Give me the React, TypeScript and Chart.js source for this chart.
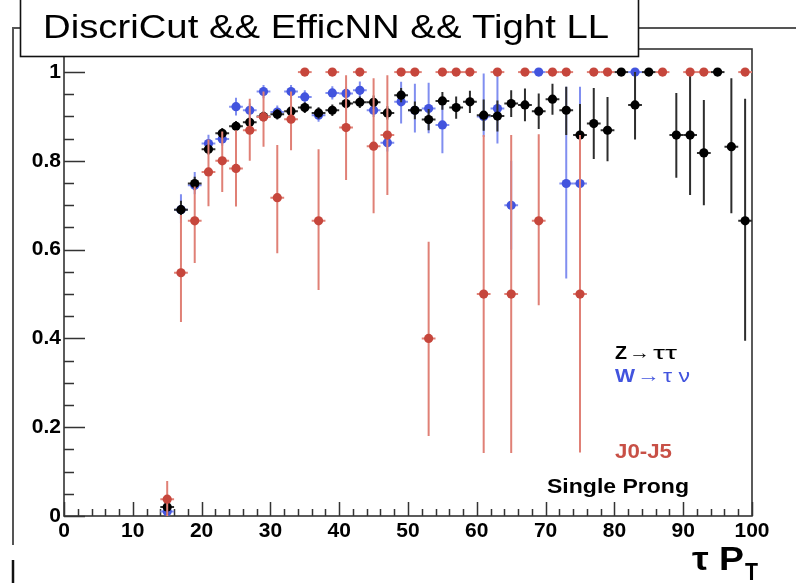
import React, { useEffect, useRef } from 'react';
import { Chart, registerables } from 'chart.js';

Chart.register(...registerables);

// ---------------- data ----------------
const xCenters = [15, 17, 19, 21, 23, 25, 27, 29, 31, 33, 35, 37, 39, 41, 43, 45, 47, 49, 51, 53, 55, 57, 59, 61, 63, 65, 67, 69, 71, 73, 75, 77, 79, 81, 83, 85, 87, 89, 91, 93, 95, 97, 99];
const binHalfWidth = 1;

// Z -> tautau (black)
const zttValues = [0.02, 0.69, 0.749, 0.826, 0.862, 0.878, 0.887, 0.9, 0.905, 0.912, 0.92, 0.908, 0.914, 0.929, 0.932, 0.932, 0.908, 0.948, 0.914, 0.893, 0.935, 0.92, 0.933, 0.903, 0.901, 0.929, 0.926, 0.912, 0.939, 0.914, 0.858, 0.884, 0.869, 1.0, 0.926, 1.0, null, 0.858, 0.858, 0.818, 1.0, 0.832, 0.665];
const zttErrHi = [0.02, 0.02, 0.015, 0.012, 0.012, 0.012, 0.012, 0.012, 0.012, 0.012, 0.012, 0.013, 0.013, 0.013, 0.013, 0.015, 0.015, 0.016, 0.02, 0.024, 0.02, 0.025, 0.025, 0.035, 0.035, 0.03, 0.037, 0.04, 0.035, 0.053, 0.07, 0.08, 0.075, 0, 0.074, 0, null, 0.095, 0.142, 0.119, 0, 0.154, 0.275];
const zttErrLo = [0.02, 0.02, 0.015, 0.012, 0.012, 0.012, 0.012, 0.012, 0.012, 0.012, 0.012, 0.013, 0.013, 0.013, 0.013, 0.015, 0.015, 0.016, 0.02, 0.024, 0.02, 0.025, 0.025, 0.035, 0.035, 0.03, 0.037, 0.04, 0.035, 0.056, 0.04, 0.08, 0.07, 0, 0.078, 0, null, 0.096, 0.135, 0.118, 0, 0.15, 0.27];

// W -> tau nu (blue)
const wtnValues = [0.01, 0.69, 0.745, 0.839, 0.849, 0.922, 0.914, 0.956, 0.91, 0.956, 0.944, 0.903, 0.953, 0.952, 0.959, 0.914, 0.841, 0.933, 0.914, 0.918, 0.881, null, null, 0.9, 0.918, 0.7, null, 1.0, null, 0.749, 0.749, null, null, null, 1.0, null, null, null, null, null, null, null, null];
const wtnErrHi = [0.01, 0.035, 0.03, 0.02, 0.015, 0.02, 0.015, 0.015, 0.015, 0.015, 0.015, 0.015, 0.015, 0.015, 0.02, 0.015, 0.02, 0.045, 0.06, 0.058, 0.048, null, null, 0.097, 0.079, 0.1, null, 0, null, 0.218, 0.218, null, null, null, 0, null, null, null, null, null, null, null, null];
const wtnErrLo = [0.01, 0.03, 0.02, 0.02, 0.015, 0.02, 0.015, 0.015, 0.015, 0.015, 0.015, 0.015, 0.015, 0.015, 0.02, 0.015, 0.02, 0.049, 0.05, 0.056, 0.064, null, null, 0.046, 0.079, 0.1, null, 0, null, 0.214, 0.2, null, null, null, 0, null, null, null, null, null, null, null, null];

// J0-J5 (red)
const jetValues = [0.038, 0.548, 0.665, 0.775, 0.8, 0.783, 0.869, 0.899, 0.717, 0.894, 1.0, 0.665, 1.0, 0.875, 1.0, 0.833, 0.858, 1.0, 1.0, 0.4, 1.0, 1.0, 1.0, 0.5, 1.0, 0.5, 1.0, 0.665, 1.0, 1.0, 0.5, 1.0, 1.0, null, null, null, 1.0, null, 1.0, 1.0, null, null, 1.0];
const jetErrHi = [0.041, 0.13, 0.077, 0.073, 0.066, 0.086, 0.071, 0.057, 0.119, 0.062, 0, 0.161, 0, 0.118, 0, 0.153, 0.135, 0, 0, 0.218, 0, 0, 0, 0.358, 0, 0.358, 0, 0.195, 0, 0, 0.358, 0, 0, null, null, null, 0, null, 0, 0, null, null, 0];
const jetErrLo = [0.038, 0.111, 0.095, 0.077, 0.07, 0.086, 0.069, 0.067, 0.125, 0.07, 0, 0.156, 0, 0.118, 0, 0.151, 0.135, 0, 0, 0.22, 0, 0, 0, 0.358, 0, 0.358, 0, 0.19, 0, 0, 0.357, 0, 0, null, null, null, 0, null, 0, 0, null, null, 0];

const xTickValues = [0, 10, 20, 30, 40, 50, 60, 70, 80, 90, 100];
const yTickValues = [0, 0.2, 0.4, 0.6, 0.8, 1];
const yTickLabels = ['0', '0.2', '0.4', '0.6', '0.8', '1'];
const xMinorStep = 2;
const yMinorStep = 0.05;

const titleText = 'DiscriCut && EfficNN && Tight LL';
const xAxisTitle = 'τ P';
const xAxisSub = 'T';

// ---------------- styles ----------------
const RED = 'rgb(198,70,60)';
const RED_BAR = 'rgb(224,128,118)';
const BLUE = 'rgb(66,84,222)';
const BLUE_BAR = 'rgb(128,142,240)';
const BLACK = '#000';
const BLACK_BAR = 'rgb(45,45,45)';
const FONT = "'Liberation Sans', Arial, Helvetica, sans-serif";

function buildPoints(values: (number | null)[], lo: (number | null)[], hi: (number | null)[]) {
  const pts: any[] = [];
  values.forEach((v, i) => {
    if (v === null || v === undefined) return;
    pts.push({ x: xCenters[i], y: v, lo: lo[i] ?? 0, hi: hi[i] ?? 0 });
  });
  return pts;
}

function drawFitted(ctx: CanvasRenderingContext2D, text: string, x0: number, x1: number, baseline: number, font: string, color: string) {
  ctx.save();
  ctx.font = font;
  ctx.fillStyle = color;
  ctx.textAlign = 'left';
  ctx.textBaseline = 'alphabetic';
  const w = ctx.measureText(text).width;
  const sx = w > 0 ? (x1 - x0) / w : 1;
  ctx.translate(x0, baseline);
  ctx.scale(sx, 1);
  ctx.fillText(text, 0, 0);
  ctx.restore();
}

const errorBarPlugin = {
  id: 'errorBars',
  beforeDatasetDraw(chart: any, args: any) {
    const ds = chart.data.datasets[args.index];
    const xs = chart.scales.x;
    const ys = chart.scales.y;
    const ctx = chart.ctx as CanvasRenderingContext2D;
    ctx.save();
    ctx.strokeStyle = ds.barColor;
    ctx.lineWidth = 2;
    ds.data.forEach((p: any) => {
      const px = xs.getPixelForValue(p.x);
      const py = ys.getPixelForValue(p.y);
      ctx.beginPath();
      ctx.moveTo(xs.getPixelForValue(p.x - binHalfWidth), py);
      ctx.lineTo(xs.getPixelForValue(p.x + binHalfWidth), py);
      if (p.lo > 0 || p.hi > 0) {
        ctx.moveTo(px, ys.getPixelForValue(p.y - p.lo));
        ctx.lineTo(px, ys.getPixelForValue(p.y + p.hi));
      }
      ctx.stroke();
    });
    ctx.restore();
  },
};

const framePlugin = {
  id: 'frameTicks',
  beforeDraw(chart: any) {
    const ctx = chart.ctx as CanvasRenderingContext2D;
    // outer pad frame
    ctx.save();
    ctx.strokeStyle = '#555';
    ctx.lineWidth = 2;
    ctx.beginPath();
    ctx.moveTo(13, 545);
    ctx.lineTo(13, 28);
    ctx.lineTo(21, 28);
    ctx.moveTo(638, 28);
    ctx.lineTo(800, 28);
    ctx.stroke();
    ctx.strokeStyle = '#111';
    ctx.lineWidth = 2.5;
    ctx.beginPath();
    ctx.moveTo(13, 560);
    ctx.lineTo(13, 590);
    ctx.stroke();
    ctx.restore();
  },
  beforeDatasetsDraw(chart: any) {
    const ctx = chart.ctx as CanvasRenderingContext2D;
    const a = chart.chartArea;
    const xs = chart.scales.x;
    const ys = chart.scales.y;
    ctx.save();
    ctx.strokeStyle = '#333';
    ctx.lineWidth = 1.6;
    ctx.strokeRect(a.left, a.top, a.right - a.left, a.bottom - a.top);
    ctx.lineWidth = 1.5;
    ctx.beginPath();
    // x ticks (inward)
    for (let v = xTickValues[0]; v <= xTickValues[xTickValues.length - 1] + 1e-9; v += xMinorStep) {
      const major = xTickValues.some((t) => Math.abs(t - v) < 1e-6);
      const px = Math.round(xs.getPixelForValue(v)) + 0.5;
      ctx.moveTo(px, a.bottom);
      ctx.lineTo(px, a.bottom - (major ? 14 : 7));
    }
    // y ticks (inward)
    for (let v = 0; v <= ys.max + 1e-9; v += yMinorStep) {
      const major = yTickValues.some((t) => Math.abs(t - v) < 1e-6);
      const py = Math.round(ys.getPixelForValue(v)) + 0.5;
      ctx.moveTo(a.left, py);
      ctx.lineTo(a.left + (major ? 21 : 10), py);
    }
    ctx.stroke();
    ctx.restore();
  },
  afterDraw(chart: any) {
    const ctx = chart.ctx as CanvasRenderingContext2D;
    // legend-like labels
    drawFitted(ctx, 'Z', 615, 627, 359, `bold 19px ${FONT}`, BLACK);
    drawFitted(ctx, '→', 629, 650, 359, `19px ${FONT}`, BLACK);
    drawFitted(ctx, 'ττ', 653, 677, 359, `19px ${FONT}`, BLACK);
    drawFitted(ctx, 'W', 615, 635, 382, `bold 19px ${FONT}`, BLUE);
    drawFitted(ctx, '→', 637, 660, 382, `19px ${FONT}`, BLUE);
    drawFitted(ctx, 'τ ν', 663, 690, 382, `19px ${FONT}`, BLUE);
    drawFitted(ctx, 'J0-J5', 615, 672, 458, `bold 20px ${FONT}`, 'rgb(200,80,70)');
    drawFitted(ctx, 'Single Prong', 547, 689, 493, `bold 21px ${FONT}`, BLACK);
    // axis title
    drawFitted(ctx, xAxisTitle, 692, 744, 570, `bold 33px ${FONT}`, BLACK);
    drawFitted(ctx, xAxisSub, 745, 758, 580, `bold 23px ${FONT}`, BLACK);
    // title box
    ctx.save();
    ctx.fillStyle = '#fff';
    ctx.fillRect(20, -2, 618, 59);
    ctx.strokeStyle = '#111';
    ctx.lineWidth = 1.6;
    ctx.strokeRect(20.5, -2, 618, 58.5);
    ctx.restore();
    drawFitted(ctx, titleText, 43, 609, 38, `33px ${FONT}`, BLACK);
  },
};

export default function App() {
  const canvasRef = useRef<HTMLCanvasElement | null>(null);

  useEffect(() => {
    document.body.style.margin = '0';
    const canvas = canvasRef.current;
    if (!canvas) return;
    const chart = new Chart(canvas, {
      type: 'scatter',
      data: {
        datasets: [
          {
            label: 'J0-J5',
            data: buildPoints(jetValues, jetErrLo, jetErrHi),
            backgroundColor: RED,
            borderColor: RED,
            pointRadius: 4.6,
            pointBorderWidth: 0,
            order: 0,
            barColor: RED_BAR,
          } as any,
          {
            label: 'Z→ττ',
            data: buildPoints(zttValues, zttErrLo, zttErrHi),
            backgroundColor: BLACK,
            borderColor: BLACK,
            pointRadius: 4.6,
            pointBorderWidth: 0,
            order: 1,
            barColor: BLACK_BAR,
          } as any,
          {
            label: 'W→τν',
            data: buildPoints(wtnValues, wtnErrLo, wtnErrHi),
            backgroundColor: BLUE,
            borderColor: BLUE,
            pointRadius: 4.6,
            pointBorderWidth: 0,
            order: 2,
            barColor: BLUE_BAR,
          } as any,
        ],
      },
      options: {
        responsive: false,
        animation: false,
        devicePixelRatio: 1,
        layout: { padding: { left: 0, top: 49, right: 44, bottom: 0 } },
        plugins: {
          legend: { display: false },
          tooltip: { enabled: false },
          title: { display: false },
        },
        scales: {
          x: {
            type: 'linear',
            min: 0,
            max: 100,
            grid: { display: false, drawTicks: false },
            border: { display: false },
            ticks: {
              stepSize: 10,
              padding: 3,
              color: '#000',
              font: { family: FONT, size: 21, weight: 'bold' },
            },
            afterFit: (scale: any) => {
              scale.height = 67;
            },
          },
          y: {
            type: 'linear',
            min: 0,
            max: 1.052,
            grid: { display: false, drawTicks: false },
            border: { display: false },
            afterBuildTicks: (scale: any) => {
              scale.ticks = yTickValues.map((v) => ({ value: v }));
            },
            ticks: {
              padding: 3,
              color: '#000',
              font: { family: FONT, size: 21, weight: 'bold' },
              callback: (_v: any, i: number) => yTickLabels[i],
            },
            afterFit: (scale: any) => {
              scale.width = 64;
            },
          },
        },
      } as any,
      plugins: [framePlugin, errorBarPlugin],
    });
    return () => chart.destroy();
  }, []);

  return (
    <div style={{ width: 796, height: 583, background: '#fff' }}>
      <canvas ref={canvasRef} width={796} height={583} style={{ display: 'block' }} />
    </div>
  );
}
